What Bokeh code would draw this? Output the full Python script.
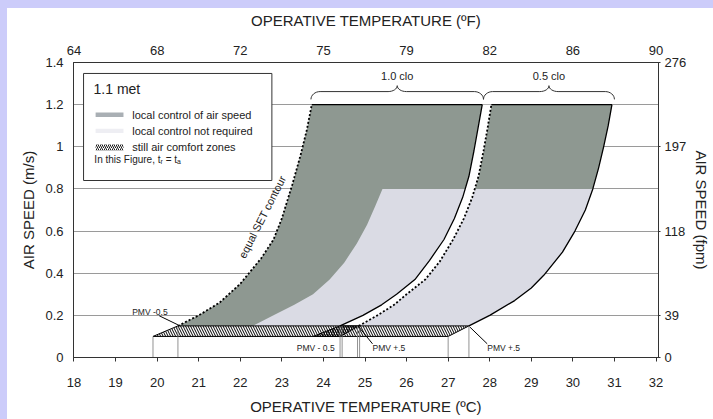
import numpy as np
from bokeh.plotting import figure
from bokeh.layouts import column, row
from bokeh.models import LinearAxis, FixedTicker, Range1d, Label, BoxAnnotation, Grid, Spacer
from bokeh.embed import file_html
from bokeh.resources import INLINE

# ---------------- data (operative temperature in degC, air speed in m/s) -------------
bottom_ticks = list(range(18, 33))
top_tick_c = [18, 20, 22, 24, 26, 28, 30, 32]
top_tick_f = ["64", "68", "72", "75", "79", "82", "86", "90"]
left_ticks = [0, 0.2, 0.4, 0.6, 0.8, 1.0, 1.2, 1.4]
left_labels = ["0", "0.2", "0.4", "0.6", "0.8", "1", "1.2", "1.4"]
right_tick_ms = [0, 0.2, 0.6, 1.0, 1.4]
right_tick_fpm = ["0", "39", "118", "197", "276"]
grid_speeds = [0.2, 0.4, 0.6, 0.8, 1.0, 1.2]

# 1.0 clo: equal SET contour (dotted, left) and PMV +0.5 boundary (solid, right)
set10_t = [20.5, 21.0, 21.5, 22.0, 22.5, 22.8, 23.0, 23.25, 23.45, 23.6, 23.72]
set10_v = [0.15, 0.2, 0.26, 0.35, 0.47, 0.56, 0.66, 0.82, 0.96, 1.08, 1.2]
pmv10_t = [24.4, 24.95, 25.4, 25.76, 26.2, 26.55, 26.9, 27.15, 27.35, 27.5, 27.62, 27.72, 27.82]
pmv10_v = [0.15, 0.2, 0.25, 0.3, 0.37, 0.46, 0.56, 0.66, 0.76, 0.86, 0.98, 1.09, 1.2]
# 0.5 clo: equal SET contour (dotted, left) and PMV +0.5 boundary (solid, right)
set05_t = [24.85, 25.3, 25.7, 26.0, 26.45, 26.8, 27.12, 27.38, 27.58, 27.73, 27.85, 27.95, 28.04]
set05_v = [0.15, 0.2, 0.25, 0.3, 0.37, 0.456, 0.56, 0.66, 0.76, 0.86, 0.98, 1.09, 1.2]
pmv05_t = [27.5, 28.0, 28.6, 29.0, 29.3, 29.75, 30.05, 30.3, 30.48, 30.62, 30.74, 30.85, 30.94]
pmv05_v = [0.15, 0.2, 0.27, 0.33, 0.39, 0.5, 0.6, 0.7, 0.8, 0.9, 1.0, 1.1, 1.2]
# boundary of the "local control not required" zone
light_t = [22.3, 22.8, 23.3, 23.75, 24.15, 24.5, 24.8, 25.05, 25.25, 25.42]
light_v = [0.15, 0.2, 0.25, 0.3, 0.37, 0.45, 0.54, 0.63, 0.72, 0.8]
light_top = 0.8

# still-air comfort zones (hatched)
band10_t = [19.9, 20.5, 24.85, 24.4]
band05_t = [23.75, 24.4, 27.5, 27.0]
band_v = [0.1, 0.15, 0.15, 0.1]
# drop lines to the temperature axis
drop_t = [19.9, 20.5, 24.4, 24.45, 24.82, 24.87, 27.0, 27.5]
drop_v = [0.1, 0.15, 0.15, 0.15, 0.15, 0.15, 0.1, 0.15]

# clo braces over the zones
brace_10 = (23.7, 27.85)
brace_05 = (27.85, 31.0)

DARK = "#8e9891"
LIGHT = "#dadbe4"
TXT = "#222222"
FONT = "Liberation Sans"
EDGE = "#ccccfa"

X0, X1 = 17.988, 32.06
fig = figure(width=706, height=411, x_range=Range1d(X0, X1), y_range=Range1d(0, 1.4),
             output_backend="svg", toolbar_location=None,
             min_border_left=66, min_border_right=53, min_border_top=54, min_border_bottom=62,
             x_axis_location=None, y_axis_location=None)
fig.outline_line_color = "#333333"
fig.outline_line_width = 1
fig.background_fill_color = "white"
fig.border_fill_color = "white"
for g in fig.grid:
    g.visible = False

fig.add_layout(Grid(dimension=1, ticker=FixedTicker(ticks=grid_speeds), grid_line_color="#9a9a9a",
                    grid_line_width=1))

def style_axis(ax, label, size="13px"):
    ax.axis_label = label
    ax.axis_label_text_font = FONT
    ax.axis_label_text_font_size = "15px"
    ax.axis_label_text_font_style = "normal"
    ax.axis_label_text_color = TXT
    ax.major_label_text_font = FONT
    ax.major_label_text_font_size = size
    ax.major_label_text_color = TXT
    ax.axis_line_color = "#333333"
    ax.major_tick_line_color = "#333333"
    ax.minor_tick_line_color = None
    ax.major_tick_in = 0

xb = LinearAxis(ticker=FixedTicker(ticks=bottom_ticks))
style_axis(xb, "OPERATIVE TEMPERATURE (ºC)")
xb.major_tick_out = 4
xb.major_label_standoff = 16
xb.axis_label_standoff = 8
fig.add_layout(xb, "below")

xt = LinearAxis(ticker=FixedTicker(ticks=top_tick_c))
style_axis(xt, "OPERATIVE TEMPERATURE (ºF)")
xt.major_label_overrides = {c: f for c, f in zip(top_tick_c, top_tick_f)}
xt.major_tick_out = 0
xt.major_label_standoff = 8
xt.axis_label_standoff = 14
fig.add_layout(xt, "above")

yl = LinearAxis(ticker=FixedTicker(ticks=left_ticks))
style_axis(yl, "AIR SPEED (m/s)")
yl.major_label_overrides = {t: s for t, s in zip(left_ticks, left_labels)}
yl.major_tick_out = 0
yl.major_label_standoff = 10
yl.axis_label_standoff = 5
fig.add_layout(yl, "left")

yr = LinearAxis(ticker=FixedTicker(ticks=right_tick_ms))
style_axis(yr, "AIR SPEED (fpm)")
yr.major_label_overrides = {t: s for t, s in zip(right_tick_ms, right_tick_fpm)}
yr.major_tick_out = 2
yr.major_label_standoff = 4
yr.axis_label_standoff = 4
fig.add_layout(yr, "right")

# ---------------- zones ----------------
def t_at(t_list, v_list, v):
    return float(np.interp(v, v_list, t_list))

fig.patch(set10_t + pmv10_t[::-1], set10_v + pmv10_v[::-1], fill_color=DARK, line_color=None)
fig.patch(set05_t + pmv05_t[::-1], set05_v + pmv05_v[::-1], fill_color=DARK, line_color=None)

lt_right = [t for t, v in zip(pmv05_t, pmv05_v) if v < light_top]
lv_right = [v for v in pmv05_v if v < light_top]
lx = light_t + [t_at(pmv05_t, pmv05_v, light_top)] + lt_right[::-1]
ly = light_v + [light_top] + lv_right[::-1]
fig.patch(lx, ly, fill_color=LIGHT, line_color=None)

# white gap between the two clothing zones
fig.patch(pmv10_t + set05_t[::-1], pmv10_v + set05_v[::-1], fill_color="white", line_color=None)

# hatched still-air bands
fig.patch(band10_t, band_v, fill_color="white", line_color="black", line_width=1,
          hatch_pattern="\\", hatch_color="black", hatch_scale=5, hatch_weight=1)
fig.patch(band05_t, band_v, fill_alpha=0, line_color="black", line_width=1,
          hatch_pattern="\\", hatch_color="black", hatch_scale=5, hatch_weight=1)
ov_t = [band05_t[0], band05_t[1], band10_t[2], band10_t[3]]
fig.patch(ov_t, band_v, fill_alpha=0, line_color=None,
          hatch_pattern="/", hatch_color="black", hatch_scale=5, hatch_weight=0.8)

# drop lines
fig.segment(x0=drop_t, y0=[0] * len(drop_t), x1=drop_t, y1=drop_v, line_color="#777777",
            line_width=0.8)

# curves
fig.line(set10_t, set10_v, line_color="black", line_width=1.8, line_dash="2 2")
fig.line(set05_t, set05_v, line_color="black", line_width=1.8, line_dash="2 2")
fig.line(pmv10_t, pmv10_v, line_color="black", line_width=1.3)
fig.line(pmv05_t, pmv05_v, line_color="black", line_width=1.3)
fig.line([set10_t[-1], pmv10_t[-1]], [1.2, 1.2], line_color="black", line_width=1.3)
fig.line([set05_t[-1], pmv05_t[-1]], [1.2, 1.2], line_color="black", line_width=1.3)

# braces
def brace(x0, x1, y_end=1.225, y_bar=1.262, y_tip=1.29, r=0.22):
    xm = (x0 + x1) / 2
    t = np.linspace(0, np.pi / 2, 9)
    bx = np.concatenate([x0 + r * (1 - np.cos(t)), xm - r + r * np.sin(t),
                         xm + r * (1 - np.cos(t)), x1 - r + r * np.sin(t)])
    by = np.concatenate([y_end + (y_bar - y_end) * np.sin(t), y_bar + (y_tip - y_bar) * (1 - np.cos(t)),
                         y_tip - (y_tip - y_bar) * np.sin(t), y_bar - (y_bar - y_end) * (1 - np.cos(t))])
    return bx, by

for (b0, b1), lab in [(brace_10, "1.0 clo"), (brace_05, "0.5 clo")]:
    bx, by = brace(b0, b1)
    fig.line(bx, by, line_color="#333333", line_width=1)
    fig.add_layout(Label(x=(b0 + b1) / 2, y=1.335, text=lab, text_align="center",
                         text_baseline="middle", text_font=FONT, text_font_size="11px",
                         text_color=TXT))

# PMV annotations
def note(x, y, text, leader=None):
    fig.add_layout(Label(x=x, y=y, text=text, text_align="left", text_baseline="middle",
                         text_font=FONT, text_font_size="8.5px", text_color=TXT))
    if leader:
        fig.line(leader[0], leader[1], line_color="black", line_width=1)

note(19.40, 0.218, "PMV -0.5", ([20.05, 20.5], [0.198, 0.155]))
note(23.36, 0.043, "PMV - 0.5")
note(25.18, 0.043, "PMV +.5", ([25.18, 24.84], [0.065, 0.148]))
note(27.94, 0.043, "PMV +.5", ([27.94, 27.52], [0.065, 0.145]))

# equal SET contour label
fig.add_layout(Label(x=22.66, y=0.655, text="equal SET contour", angle=1.1, text_align="center",
                     text_baseline="bottom", text_font=FONT, text_font_size="11px", text_color=TXT))

# ---------------- legend box ----------------
fig.add_layout(BoxAnnotation(left=18.23, right=22.76, bottom=0.84, top=1.348, fill_color="white",
                             fill_alpha=1, line_color="#333333", line_width=1, line_alpha=1))
fig.add_layout(Label(x=18.47, y=1.272, text="1.1 met", text_baseline="middle", text_font=FONT,
                     text_font_size="14px", text_color=TXT))
fig.add_layout(BoxAnnotation(left=18.52, right=19.19, bottom=1.141, top=1.163, fill_color="#a9afb4",
                             fill_alpha=1, line_color=None))
fig.add_layout(BoxAnnotation(left=18.52, right=19.19, bottom=1.066, top=1.086, fill_color="#eeeef3",
                             fill_alpha=1, line_color=None))
fig.add_layout(BoxAnnotation(left=18.52, right=19.19, bottom=0.982, top=1.012, fill_alpha=0,
                             line_color=None, hatch_pattern="/", hatch_color="black", hatch_scale=4,
                             hatch_weight=0.9))
for yy, tx in [(1.153, "local control of air speed"), (1.077, "local control not required"),
               (0.997, "still air comfort zones")]:
    fig.add_layout(Label(x=19.40, y=yy, text=tx, text_baseline="middle", text_font=FONT,
                         text_font_size="11px", text_color=TXT))
fig.add_layout(Label(x=18.49, y=0.94, text="In this Figure, tᵣ = tₐ", text_baseline="middle",
                     text_font=FONT, text_font_size="10px", text_color=TXT))
fig.ellipse(x=[20.36], y=[0.925], width=[1.2], height=[0.115], angle=[0.05], fill_alpha=0,
            line_color="#555555", line_width=1)

# page: lavender strip above and to the left of the white chart card
top_strip = Spacer(width=713, height=8, styles={"background-color": EDGE})
left_strip = Spacer(width=7, height=411, styles={"background-color": EDGE})
p = column(top_strip, row(left_strip, fig, spacing=0), spacing=0)

open("out.html", "w").write(file_html(p, INLINE))
